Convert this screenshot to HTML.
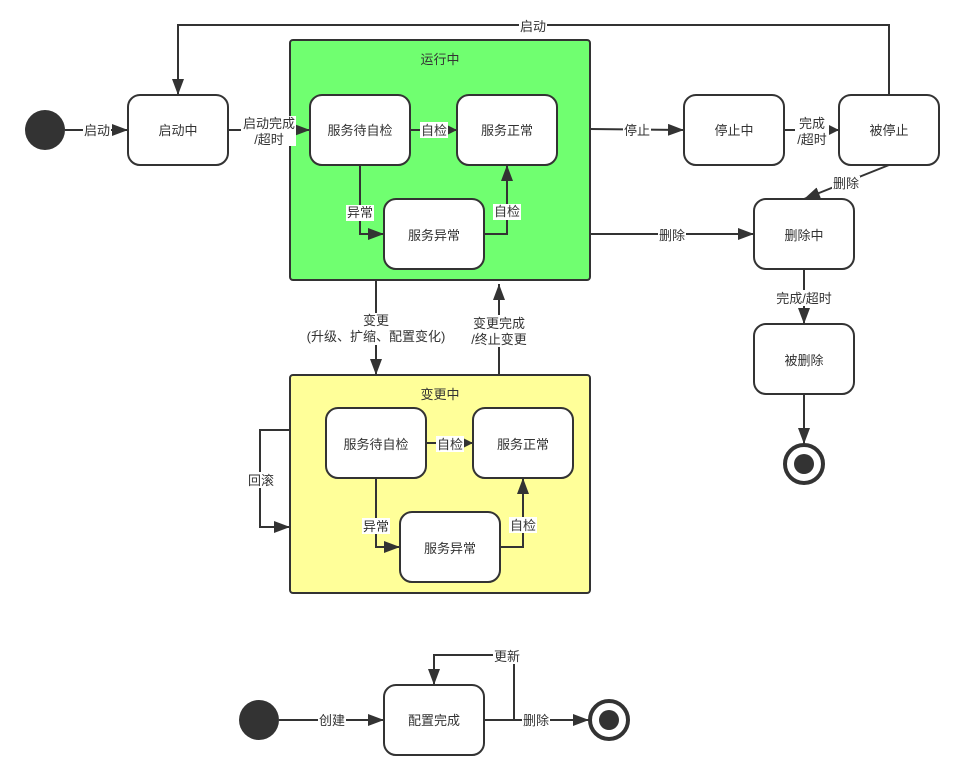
<!DOCTYPE html>
<html><head><meta charset="utf-8"><style>
html,body{margin:0;padding:0;background:#fff;}
svg{display:block;}
text{font-family:"Liberation Sans","Noto Sans CJK SC",sans-serif;font-size:13px;fill:#333;}
</style></head><body>
<svg width="964" height="780" viewBox="0 0 964 780" xmlns="http://www.w3.org/2000/svg">
<defs>
<marker id="a" markerUnits="userSpaceOnUse" markerWidth="18" markerHeight="12" refX="16" refY="6" orient="auto">
<path d="M0,0 L16,6 L0,12 Z" fill="#333"/></marker>
<marker id="s" markerUnits="userSpaceOnUse" markerWidth="12" markerHeight="10" refX="10" refY="5" orient="auto">
<path d="M0,0 L10,5 L0,10 Z" fill="#333"/></marker>
</defs>
<g fill="none" stroke="#333" stroke-width="2">
<!-- containers -->
<rect x="290" y="40" width="300" height="240" rx="3" fill="#70ff70"/>
<rect x="290" y="375" width="300" height="218" rx="3" fill="#ffff99"/>
<!-- edges -->
<path d="M65,130 H128" marker-end="url(#a)"/>
<path d="M889,95 V25 H178 V95" marker-end="url(#a)"/>
<path d="M228,130 H310" marker-end="url(#a)"/>
<path d="M410,130 H457" marker-end="url(#s)"/>
<path d="M360,165 V234 H384" marker-end="url(#a)"/>
<path d="M484,234 H507 V165" marker-end="url(#a)" marker-start="url(#a)"/>
<path d="M590,129 L684,130" marker-end="url(#a)"/>
<path d="M784,130 H839" marker-end="url(#s)"/>
<path d="M889,165 L804,199" marker-end="url(#a)"/>
<path d="M590,234 H754" marker-end="url(#a)"/>
<path d="M804,269 V324" marker-end="url(#a)"/>
<path d="M804,394 V444" marker-end="url(#a)"/>
<path d="M376,280 V375" marker-end="url(#a)"/>
<path d="M499,375 V284" marker-end="url(#a)"/>
<path d="M426,443 H473" marker-end="url(#s)"/>
<path d="M376,478 V547 H400" marker-end="url(#a)"/>
<path d="M500,547 H523 V478" marker-end="url(#a)" marker-start="url(#a)"/>
<path d="M290,430 H260 V527 H290" marker-end="url(#a)"/>
<path d="M279,720 H384" marker-end="url(#a)"/>
<path d="M484,720 H589" marker-end="url(#a)"/>
<path d="M514,720 V655 H434 V685" marker-end="url(#a)"/>
<!-- nodes -->
<g fill="#fff">
<rect x="128" y="95" width="100" height="70" rx="12"/>
<rect x="310" y="95" width="100" height="70" rx="12"/>
<rect x="457" y="95" width="100" height="70" rx="12"/>
<rect x="384" y="199" width="100" height="70" rx="12"/>
<rect x="684" y="95" width="100" height="70" rx="12"/>
<rect x="839" y="95" width="100" height="70" rx="12"/>
<rect x="754" y="199" width="100" height="70" rx="12"/>
<rect x="754" y="324" width="100" height="70" rx="12"/>
<rect x="326" y="408" width="100" height="70" rx="12"/>
<rect x="473" y="408" width="100" height="70" rx="12"/>
<rect x="400" y="512" width="100" height="70" rx="12"/>
<rect x="384" y="685" width="100" height="70" rx="12"/>
</g>
</g>
<circle cx="45" cy="130" r="20" fill="#333"/>
<circle cx="259" cy="720" r="20" fill="#333"/>
<circle cx="804" cy="464" r="19" fill="#fff" stroke="#333" stroke-width="4"/>
<circle cx="804" cy="464" r="10" fill="#333"/>
<circle cx="609" cy="720" r="19" fill="#fff" stroke="#333" stroke-width="4"/>
<circle cx="609" cy="720" r="10" fill="#333"/>
<!-- label backgrounds -->
<g fill="#fff">
<rect x="83" y="122" width="28" height="16"/>
<rect x="519" y="17" width="28" height="16"/>
<rect x="241" y="116" width="55" height="30"/>
<rect x="420" y="122" width="28" height="16"/>
<rect x="346" y="205" width="28" height="16"/>
<rect x="493" y="204" width="28" height="16"/>
<rect x="623" y="122" width="28" height="16"/>
<rect x="795" y="116" width="34" height="30"/>
<rect x="832" y="176" width="28" height="16"/>
<rect x="658" y="227" width="28" height="16"/>
<rect x="774" y="290" width="60" height="16"/>
<rect x="305" y="313" width="142" height="32"/>
<rect x="469" y="315" width="60" height="32"/>
<rect x="436" y="436" width="28" height="16"/>
<rect x="362" y="518" width="28" height="16"/>
<rect x="509" y="517" width="28" height="16"/>
<rect x="247" y="472" width="28" height="16"/>
<rect x="318" y="712" width="28" height="16"/>
<rect x="493" y="648" width="28" height="16"/>
<rect x="522" y="712" width="28" height="16"/>
</g>
<g text-anchor="middle">
<text x="97" y="135">启动</text>
<text x="533" y="31">启动</text>
<text x="269" y="128">启动完成</text>
<text x="269" y="144">/超时</text>
<text x="434" y="135">自检</text>
<text x="360" y="217">异常</text>
<text x="507" y="216">自检</text>
<text x="637" y="135">停止</text>
<text x="812" y="128">完成</text>
<text x="812" y="144">/超时</text>
<text x="846" y="188">删除</text>
<text x="672" y="240">删除</text>
<text x="804" y="303">完成/超时</text>
<text x="376" y="325">变更</text>
<text x="376" y="341">(升级、扩缩、配置变化)</text>
<text x="499" y="328">变更完成</text>
<text x="499" y="344">/终止变更</text>
<text x="450" y="449">自检</text>
<text x="376" y="531">异常</text>
<text x="523" y="530">自检</text>
<text x="261" y="485">回滚</text>
<text x="332" y="725">创建</text>
<text x="507" y="661">更新</text>
<text x="536" y="725">删除</text>
<text x="440" y="64">运行中</text>
<text x="440" y="399">变更中</text>
<text x="178" y="135">启动中</text>
<text x="360" y="135">服务待自检</text>
<text x="507" y="135">服务正常</text>
<text x="434" y="240">服务异常</text>
<text x="734" y="135">停止中</text>
<text x="889" y="135">被停止</text>
<text x="804" y="240">删除中</text>
<text x="804" y="365">被删除</text>
<text x="376" y="449">服务待自检</text>
<text x="523" y="449">服务正常</text>
<text x="450" y="553">服务异常</text>
<text x="434" y="725">配置完成</text>
</g>
</svg>
</body></html>
